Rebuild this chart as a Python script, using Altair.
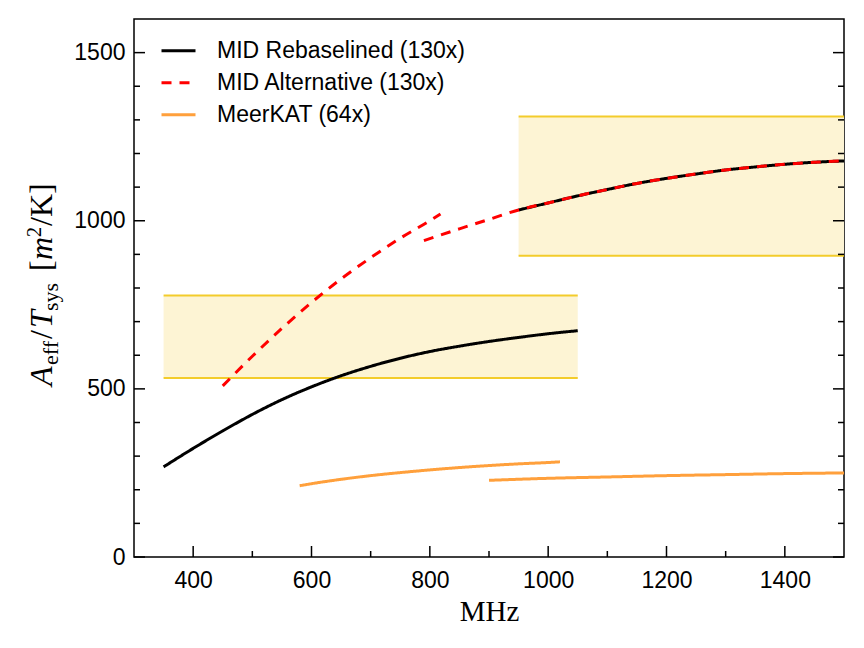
import altair as alt
import pandas as pd

# ---------------- data ----------------
S_RB = "MID Rebaselined (130x)"
S_ALT = "MID Alternative (130x)"
S_MK = "MeerKAT (64x)"

rb1_x = [350, 400, 450, 500, 550, 600, 650, 700, 750, 800, 850, 900, 950, 1000, 1050]
rb1_y = [268, 323, 375, 424, 468, 506, 539, 567, 591, 611, 627, 641, 653, 664, 673]
rb2_x = [950, 1000, 1050, 1100, 1150, 1200, 1250, 1300, 1350, 1400, 1450, 1500]
rb2_y = [1032, 1053, 1074, 1093, 1111, 1126, 1139, 1151, 1160, 1168, 1174, 1178]

alt1_x = [450, 500, 550, 600, 650, 700, 750, 800, 818]
alt1_y = [509, 597, 680, 757, 827, 890, 948, 1000, 1020]
alt2_x = [790, 850, 900, 950, 1000, 1050, 1100, 1150, 1200, 1250, 1300, 1350, 1400, 1450, 1500]
alt2_y = [941, 976, 1004, 1032, 1053, 1074, 1093, 1111, 1126, 1139, 1151, 1160, 1168, 1174, 1178]

mk1_x = [580, 600, 650, 700, 750, 800, 850, 900, 950, 1000, 1020]
mk1_y = [212, 218, 231, 242, 251, 259, 266, 272, 277, 281, 283]
mk2_x = [900, 1000, 1100, 1200, 1300, 1400, 1500]
mk2_y = [228, 234, 238, 242, 245, 248, 250]

box_x0 = [350, 950]
box_x1 = [1050, 1500]
box_y0 = [532, 896]
box_y1 = [778, 1310]

x_tick_labels = [400, 600, 800, 1000, 1200, 1400]
x_minor = [500, 700, 900, 1100, 1300]
y_tick_labels = [0, 500, 1000, 1500]
y_minor = [100, 200, 300, 400, 600, 700, 800, 900, 1100, 1200, 1300, 1400]

# ---------------- tables ----------------
rows = []
for s, seg, xs, ys in [
    (S_RB, "rb1", rb1_x, rb1_y), (S_RB, "rb2", rb2_x, rb2_y),
    (S_ALT, "a1", alt1_x, alt1_y), (S_ALT, "a2", alt2_x, alt2_y),
    (S_MK, "m1", mk1_x, mk1_y), (S_MK, "m2", mk2_x, mk2_y),
]:
    for xv, yv in zip(xs, ys):
        rows.append({"series": s, "seg": seg, "x": xv, "y": yv})
lines = pd.DataFrame(rows)

boxes = pd.DataFrame({"x0": box_x0, "x1": box_x1, "y0": box_y0, "y1": box_y1})
edges = pd.DataFrame({
    "x0": box_x0 + box_x0,
    "x1": box_x1 + box_x1,
    "y": box_y0 + box_y1,
})

W, H = 710, 538
xscale = alt.Scale(domain=[300, 1500], nice=False, zero=False)
yscale = alt.Scale(domain=[0, 1600], nice=False, zero=False)

xaxis = alt.Axis(values=x_tick_labels, format="d", title="MHz", labelPadding=12,
                 titleFont="Liberation Serif", titleFontSize=29,
                 titleFontWeight="normal", titleColor="black", titlePadding=5)
yaxis = alt.Axis(values=y_tick_labels, format="d", title=None, labelPadding=9)


def X(f):
    return alt.X(f"{f}:Q", scale=xscale, axis=xaxis)


def Y(f):
    return alt.Y(f"{f}:Q", scale=yscale, axis=yaxis)


legend = alt.Legend(title=None, orient="none", legendX=26, legendY=16,
                    symbolType="stroke", symbolSize=1156, symbolStrokeWidth=3,
                    labelFontSize=23, labelFont="Liberation Sans", labelColor="black",
                    labelOffset=20, labelLimit=600, clipHeight=31.5, rowPadding=0, padding=0)
dom = [S_RB, S_ALT, S_MK]
color = alt.Color("series:N", scale=alt.Scale(domain=dom, range=["#000000", "#ff0000", "#ffa03c"]),
                  legend=legend)
dash = alt.StrokeDash("series:N", scale=alt.Scale(domain=dom, range=[[1, 0], [10, 8], [1, 0]]),
                      legend=legend)

rects = alt.Chart(boxes).mark_rect(color="#fdf4d4").encode(
    x=X("x0"), x2="x1", y=Y("y0"), y2="y1")
edge_rules = alt.Chart(edges).mark_rule(color="#f3cc2b", strokeWidth=2).encode(
    x=X("x0"), x2="x1", y=Y("y"))


def line_layer(s):
    return alt.Chart(lines).transform_filter(alt.datum.series == s).mark_line(
        strokeWidth=3, strokeCap="butt", interpolate="monotone").encode(
        x=X("x"), y=Y("y"), color=color, strokeDash=dash, detail="seg:N")


def hticks(vals, length, side):
    df = pd.DataFrame({"v": vals})
    if side == "left":
        return alt.Chart(df).mark_rule(color="black", strokeWidth=1.5).encode(
            y=Y("v"), x=alt.value(0), x2=alt.value(length))
    return alt.Chart(df).mark_rule(color="black", strokeWidth=1.5).encode(
        y=Y("v"), x=alt.value(W), x2=alt.value(W - length))


def vticks(vals, length):
    df = pd.DataFrame({"v": vals})
    return alt.Chart(df).mark_rule(color="black", strokeWidth=1.5).encode(
        x=X("v"), y=alt.value(H), y2=alt.value(H - length))


# y-axis title built from pieces (math-like label)
OX, OY = 134, 19
pieces = [
    # text, font size, italic, baseline x (page), start y (page)
    ("A", 32, True, 52, 386),
    ("eff", 22, False, 58, 365),
    ("/", 32, False, 52, 339),
    ("T", 32, True, 52, 328),
    ("sys", 22, False, 58, 311),
    ("[", 32, False, 52, 271),
    ("m", 32, True, 52, 260),
    ("2", 20, False, 41, 237),
    ("/", 32, False, 52, 226),
    ("K", 32, False, 52, 217),
    ("]", 32, False, 52, 194),
]
title_layers = []
one = pd.DataFrame({"k": [0]})
for txt, fs, it, bx, sy in pieces:
    kw = dict(angle=270, align="left", baseline="alphabetic", font="Liberation Serif",
              fontSize=fs, color="black")
    if it:
        kw["fontStyle"] = "italic"
    title_layers.append(
        alt.Chart(one).mark_text(**kw).encode(
            x=alt.value(bx - OX), y=alt.value(sy - OY), text=alt.value(txt)))

chart = alt.layer(
    rects, edge_rules,
    line_layer(S_RB), line_layer(S_MK), line_layer(S_ALT),
    vticks(x_tick_labels, 11), vticks(x_minor, 6),
    hticks(y_tick_labels, 11, "left"), hticks(y_minor, 6, "left"),
    hticks(y_tick_labels, 11, "right"), hticks(y_minor, 6, "right"),
    *title_layers,
).properties(
    width=W, height=H,
    autosize=alt.AutoSizeParams(type="none"),
    padding={"left": 126, "top": 11, "right": 10, "bottom": 70},
).configure_view(
    stroke="black", strokeWidth=1.5
).configure_axis(
    grid=False, domain=False, ticks=False, tickSize=0,
    labelFont="Liberation Sans", labelFontSize=23, labelColor="black",
)

chart.save("out.html", embed_options={"renderer": "svg", "actions": False})
